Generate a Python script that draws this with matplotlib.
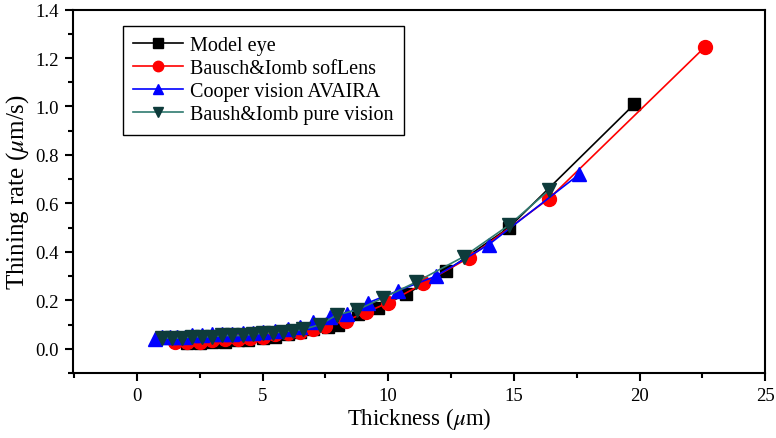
import matplotlib
matplotlib.use("Agg")
import matplotlib.pyplot as plt
from matplotlib.ticker import MultipleLocator, FormatStrFormatter

plt.rcParams['font.family'] = ['Liberation Serif', 'DejaVu Serif']
plt.rcParams['mathtext.fontset'] = 'stix'

# Data
model_x = [2.0, 2.5, 3.0, 3.5, 4.0, 4.4, 5.0, 5.5, 6.0, 6.5, 7.0, 7.6, 8.0, 8.8, 9.6, 10.7, 12.3, 14.8, 19.8]
model_y = [0.025, 0.025, 0.03, 0.03, 0.035, 0.035, 0.045, 0.05, 0.06, 0.07, 0.08, 0.09, 0.10, 0.145, 0.17, 0.225, 0.32, 0.50, 1.01]

soflens_x = [1.5, 2.0, 2.5, 3.0, 3.5, 4.0, 4.5, 5.0, 5.5, 6.0, 6.5, 7.0, 7.5, 8.3, 9.1, 10.0, 11.4, 13.2, 16.4, 22.6]
soflens_y = [0.03, 0.03, 0.03, 0.035, 0.04, 0.04, 0.045, 0.05, 0.06, 0.065, 0.07, 0.08, 0.095, 0.115, 0.15, 0.19, 0.27, 0.375, 0.62, 1.245]

avaira_x = [0.7, 1.0, 1.3, 1.6, 1.9, 2.2, 2.6, 3.0, 3.4, 3.8, 4.2, 4.6, 5.0, 5.5, 6.0, 6.5, 7.0, 7.7, 8.35, 9.2, 10.4, 11.9, 14.0, 17.6]
avaira_y = [0.04, 0.05, 0.05, 0.05, 0.05, 0.055, 0.055, 0.06, 0.06, 0.06, 0.065, 0.065, 0.07, 0.075, 0.08, 0.09, 0.11, 0.13, 0.145, 0.19, 0.24, 0.30, 0.43, 0.72]

pure_x = [1.0, 1.4, 1.8, 2.2, 2.6, 3.0, 3.4, 3.8, 4.2, 4.6, 5.0, 5.4, 5.8, 6.2, 6.6, 7.3, 7.95, 8.75, 9.8, 11.1, 13.0, 14.8, 16.4]
pure_y = [0.045, 0.045, 0.045, 0.05, 0.05, 0.05, 0.055, 0.055, 0.055, 0.06, 0.065, 0.065, 0.07, 0.075, 0.08, 0.10, 0.14, 0.16, 0.21, 0.275, 0.38, 0.51, 0.655]

labels = ["Model eye", "Bausch&Iomb sofLens", "Cooper vision AVAIRA", "Baush&Iomb pure vision"]

fig = plt.figure(figsize=(7.76, 4.39), dpi=100)
ax = fig.add_axes([0.094, 0.148, 0.892, 0.828])

ax.plot(model_x, model_y, '-s', color='black', mfc='black', mec='black', ms=9, lw=1.2, label=labels[0])
ax.plot(soflens_x, soflens_y, '-o', color='red', mfc='red', mec='red', ms=10, lw=1.2, label=labels[1])
ax.plot(avaira_x, avaira_y, '-^', color='blue', mfc='blue', mec='blue', ms=10, lw=1.2, label=labels[2])
ax.plot(pure_x, pure_y, '-v', color='#2f7a70', mfc='#0e3b3b', mec='#0e3b3b', ms=10, lw=1.2, label=labels[3])

ax.set_xlim(-2.55, 25)
ax.set_ylim(-0.1, 1.4)
ax.xaxis.set_major_locator(MultipleLocator(5))
ax.xaxis.set_minor_locator(MultipleLocator(2.5))
ax.yaxis.set_major_locator(MultipleLocator(0.2))
ax.yaxis.set_minor_locator(MultipleLocator(0.1))
ax.yaxis.set_major_formatter(FormatStrFormatter('%.1f'))

ax.tick_params(which='major', direction='out', length=6, width=1.5, labelsize=13.5, pad=4)
ax.tick_params(which='minor', direction='out', length=3.5, width=1.5)
for s in ax.spines.values():
    s.set_linewidth(1.5)

ax.set_xlabel(r"Thickness ($\mu$m)", fontsize=16.5, labelpad=1)
ax.set_ylabel(r"Thining rate ($\mu$m/s)", fontsize=18, labelpad=3)

leg = ax.legend(loc='upper left', bbox_to_anchor=(0.072, 0.955), fontsize=14.5,
                frameon=True, fancybox=False, edgecolor='black', framealpha=1,
                handlelength=2.5, borderpad=0.5, labelspacing=0.2, handletextpad=0.35,
                markerscale=0.75, borderaxespad=0)
leg.get_frame().set_linewidth(1.0)

fig.savefig("out.png", dpi=100)
